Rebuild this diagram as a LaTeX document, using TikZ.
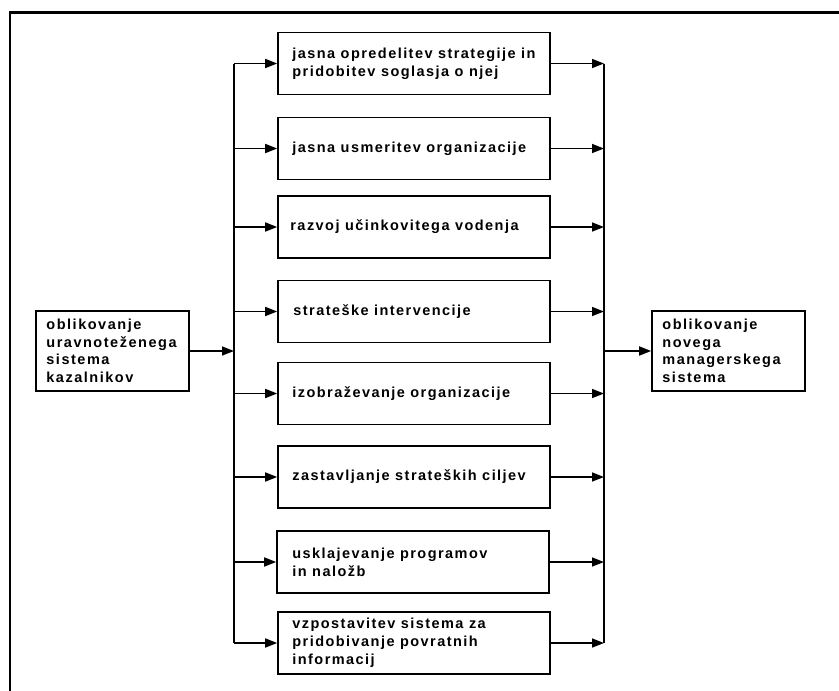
\documentclass[tikz,border=0pt]{standalone}
\usepackage{fontspec}
\setmainfont{Liberation Sans}
\newfontfamily\midfont{Liberation Sans Bold}[LetterSpace=10]
\newfontfamily\sidefont{Liberation Sans Bold}[LetterSpace=10.5]
\usetikzlibrary{arrows.meta}
\begin{document}
\begin{tikzpicture}[x=1pt,y=-1pt,
  stepbox/.style={draw, line width=1.6pt, minimum width=272pt, minimum height=62pt, inner sep=0pt},
  sidebox/.style={draw, line width=1.6pt, minimum width=153pt, minimum height=80pt, inner sep=0pt},
  midtxt/.style={anchor=west, align=left, inner sep=0pt,
    font=\midfont\fontsize{14.5}{18}\selectfont},
  sidetxt/.style={anchor=west, align=left, inner sep=0pt,
    font=\sidefont\fontsize{14.5}{17.5}\selectfont},
  bus/.style={line width=1.6pt},
  conn/.style={line width=1.6pt, -{Triangle[length=12pt,width=9pt]}}
]
\useasboundingbox (0,0) rectangle (839,691);

% outer frame (only its left and top edges fall inside the page)
\draw[line width=2.2pt] (10,691) -- (10,12.5) -- (839,12.5);

% bus lines
\coordinate (lt) at (234,63);
\coordinate (rt) at (604,63);

% the eight steps
\node[stepbox] (b1) at (414,63.5) {};
\node[stepbox] (b2) at (414,148.5) {};
\node[stepbox] (b3) at (414,227) {};
\node[stepbox] (b4) at (414,311.5) {};
\node[stepbox] (b5) at (414,393.5) {};
\node[stepbox] (b6) at (414,477) {};
\node[stepbox] (b7) at (413,562) {};
\node[stepbox] (b8) at (414,643) {};

\node[midtxt] (t1) at ([xshift=15pt]b1.west) {jasna opredelitev strategije in\\pridobitev soglasja o njej};
\node[midtxt] (t2) at ([xshift=15pt]b2.west) {jasna usmeritev organizacije};
\node[midtxt] (t3) at ([xshift=13pt]b3.west) {razvoj učinkovitega vodenja};
\node[midtxt] (t4) at ([xshift=16pt]b4.west) {strateške intervencije};
\node[midtxt] (t5) at ([xshift=15pt]b5.west) {izobraževanje organizacije};
\node[midtxt] (t6) at ([xshift=15pt]b6.west) {zastavljanje strateških ciljev};
\node[midtxt] (t7) at ([xshift=16pt]b7.west) {usklajevanje programov\\in naložb};
\node[midtxt] (t8) at ([xshift=15pt]b8.west) {vzpostavitev sistema za\\pridobivanje povratnih\\informacij};

% input and output
\node[sidebox] (a) at (112.5,351) {};
\node[sidetxt] (ta) at ([xshift=11pt]a.west) {oblikovanje\\uravnoteženega\\sistema\\kazalnikov};
\node[sidebox] (c) at (728.5,351) {};
\node[sidetxt] (tc) at ([xshift=11pt]c.west) {oblikovanje\\novega\\managerskega\\sistema};

% vertical buses
\draw[bus] (b1.west -| lt) -- (b8.west -| lt);
\draw[bus] (b1.east -| rt) -- (b8.east -| rt);

% connectors
\draw[conn] (a.east) -- (a.east -| lt);
\draw[conn] (c.west -| rt) -- (c.west);
\foreach \b in {b1,b2,b3,b4,b5,b6,b7,b8}{
  \draw[conn] (\b.west -| lt) -- (\b.west);
  \draw[conn] (\b.east) -- (\b.east -| rt);
}
\end{tikzpicture}
\end{document}
